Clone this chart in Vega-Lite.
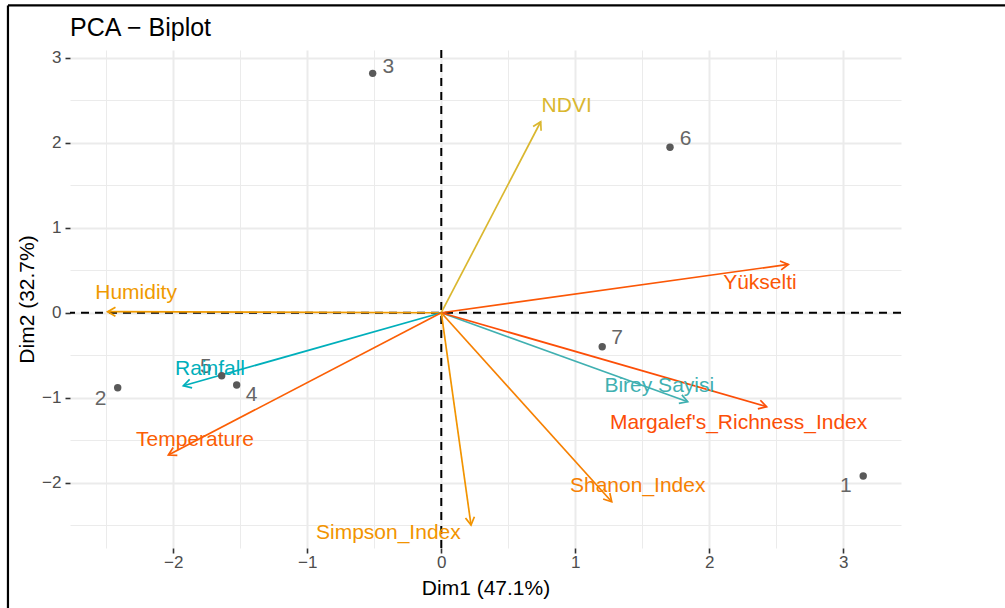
{
  "$schema": "https://vega.github.io/schema/vega-lite/v6.json",
  "width": 831,
  "height": 498,
  "autosize": {"type": "none"},
  "padding": {"left": 70, "top": 50, "right": 104, "bottom": 60},
  "background": "white",
  "config": {
    "font": "Liberation Sans, Arial, sans-serif",
    "view": {"stroke": null}
  },
  "title": {
    "text": "PCA − Biplot",
    "anchor": "start",
    "frame": "group",
    "fontSize": 25,
    "fontWeight": "normal",
    "color": "#000000",
    "baseline": "alphabetic",
    "offset": -56.5
  },
  "resolve": {"axis": {"x": "independent", "y": "independent"}},
  "datasets": {
    "one": [{}],
    "ind": [
      {"name": "1", "x": 3.149, "y": -1.921, "lx": 3.020, "ly": -2.035},
      {"name": "2", "x": -2.415, "y": -0.882, "lx": -2.542, "ly": -1.019},
      {"name": "3", "x": -0.512, "y": 2.816, "lx": -0.396, "ly": 2.894},
      {"name": "4", "x": -1.527, "y": -0.851, "lx": -1.415, "ly": -0.968},
      {"name": "5", "x": -1.639, "y": -0.741, "lx": -1.758, "ly": -0.635},
      {"name": "6", "x": 1.707, "y": 1.946, "lx": 1.824, "ly": 2.040},
      {"name": "7", "x": 1.201, "y": -0.400, "lx": 1.313, "ly": -0.301}
    ],
    "var": [
      {"name": "NDVI", "x": 0.742, "y": 2.247, "lx": 0.936, "ly": 2.432, "cos2": 0.737},
      {"name": "Yükselti", "x": 2.590, "y": 0.569, "lx": 2.378, "ly": 0.346, "cos2": 0.926},
      {"name": "Humidity", "x": -2.490, "y": 0.012, "lx": -2.278, "ly": 0.228, "cos2": 0.816},
      {"name": "Rainfall", "x": -1.925, "y": -0.859, "lx": -1.726, "ly": -0.666, "cos2": 0.576},
      {"name": "Temperature", "x": -2.037, "y": -1.674, "lx": -1.838, "ly": -1.498, "cos2": 0.915},
      {"name": "Birey Sayisi", "x": 1.839, "y": -1.047, "lx": 1.627, "ly": -0.862, "cos2": 0.589},
      {"name": "Margalef's_Richness_Index", "x": 2.428, "y": -1.106, "lx": 2.219, "ly": -1.301, "cos2": 0.937},
      {"name": "Shanon_Index", "x": 1.272, "y": -2.224, "lx": 1.466, "ly": -2.039, "cos2": 0.864},
      {"name": "Simpson_Index", "x": 0.222, "y": -2.498, "lx": -0.395, "ly": -2.595, "cos2": 0.828}
    ]
  },
  "layer": [
    {
      "data": {"name": "one"},
      "mark": {"type": "rule", "color": "#000000", "strokeWidth": 2, "strokeDash": [8, 6]},
      "encoding": {
        "x": {
          "datum": 0, "type": "quantitative",
          "scale": {"domain": [-2.771, 3.431], "nice": false, "zero": false},
          "axis": {
            "orient": "bottom",
            "title": null,
            "values": [-2.5, -1.5, -0.5, 0.5, 1.5, 2.5],
            "grid": true,
            "gridColor": "#EBEBEB",
            "gridWidth": 1,
            "domain": false,
            "ticks": false,
            "labels": false
          }
        }
      }
    },
    {
      "data": {"name": "one"},
      "mark": {"type": "rule", "color": "#000000", "strokeWidth": 2, "strokeDash": [8, 6]},
      "encoding": {
        "y": {
          "datum": 0, "type": "quantitative",
          "scale": {"domain": [-2.768, 3.091], "nice": false, "zero": false},
          "axis": {
            "orient": "left",
            "title": null,
            "values": [-2.5, -1.5, -0.5, 0.5, 1.5, 2.5],
            "grid": true,
            "gridColor": "#EBEBEB",
            "gridWidth": 1,
            "domain": false,
            "ticks": false,
            "labels": false
          }
        }
      }
    },
    {
      "data": {"name": "ind"},
      "mark": {"type": "text", "fontSize": 21, "color": "#666666", "align": "center", "baseline": "middle"},
      "encoding": {
        "x": {"field": "lx", "type": "quantitative", "scale": {"domain": [-2.771, 3.431], "nice": false, "zero": false}, "axis": null},
        "y": {"field": "ly", "type": "quantitative", "scale": {"domain": [-2.768, 3.091], "nice": false, "zero": false}, "axis": null},
        "text": {"field": "name"}
      }
    },
    {
      "data": {"name": "var"},
      "mark": {"type": "rule", "strokeWidth": 1.7},
      "encoding": {
        "x": {"field": "x", "type": "quantitative", "scale": {"domain": [-2.771, 3.431], "nice": false, "zero": false}, "axis": null},
        "y": {"field": "y", "type": "quantitative", "scale": {"domain": [-2.768, 3.091], "nice": false, "zero": false}, "axis": null},
        "x2": {"datum": 0},
        "y2": {"datum": 0},
        "stroke": {"field": "cos2", "type": "quantitative", "scale": {"domain": [0.576, 0.7565, 0.937], "range": ["#00AFBB", "#E7B800", "#FC4E07"], "interpolate": "lab"}, "legend": null}
      }
    },
    {
      "data": {"name": "var"},
      "transform": [{"calculate": "atan2(datum.x * 134, datum.y * 85) * 180 / PI", "as": "ang"}],
      "mark": {"type": "point", "shape": "M-0.5,0.866L0,0L0.5,0.866", "filled": false, "strokeWidth": 1.7, "size": 324, "opacity": 1},
      "encoding": {
        "x": {"field": "x", "type": "quantitative", "scale": {"domain": [-2.771, 3.431], "nice": false, "zero": false}, "axis": null},
        "y": {"field": "y", "type": "quantitative", "scale": {"domain": [-2.768, 3.091], "nice": false, "zero": false}, "axis": null},
        "angle": {"field": "ang", "type": "quantitative", "scale": null},
        "stroke": {"field": "cos2", "type": "quantitative", "scale": {"domain": [0.576, 0.7565, 0.937], "range": ["#00AFBB", "#E7B800", "#FC4E07"], "interpolate": "lab"}, "legend": null}
      }
    },
    {
      "data": {"name": "var"},
      "mark": {"type": "text", "fontSize": 21, "align": "center", "baseline": "middle"},
      "encoding": {
        "x": {"field": "lx", "type": "quantitative", "scale": {"domain": [-2.771, 3.431], "nice": false, "zero": false}, "axis": null},
        "y": {"field": "ly", "type": "quantitative", "scale": {"domain": [-2.768, 3.091], "nice": false, "zero": false}, "axis": null},
        "text": {"field": "name"},
        "color": {
          "field": "cos2", "type": "quantitative",
          "scale": {"domain": [0.576, 0.7565, 0.937], "range": ["#00AFBB", "#E7B800", "#FC4E07"], "interpolate": "lab"},
          "legend": {
            "title": "cos2",
            "orient": "none",
            "legendX": 862,
            "legendY": 150,
            "gradientLength": 169,
            "gradientThickness": 36,
            "labelFontSize": 17,
            "labelColor": "#1A1A1A",
            "labelOffset": 8,
            "titleFontSize": 21,
            "titleFontWeight": "normal",
            "titleColor": "#000000",
            "titlePadding": 10
          }
        }
      }
    },
    {
      "data": {"name": "ind"},
      "mark": {"type": "circle", "size": 55, "color": "#595959", "opacity": 1},
      "encoding": {
        "x": {
          "field": "x", "type": "quantitative",
          "scale": {"domain": [-2.771, 3.431], "nice": false, "zero": false},
          "axis": {
            "orient": "bottom",
            "title": "Dim1 (47.1%)",
            "values": [-2, -1, 0, 1, 2, 3],
            "format": "d",
            "grid": true,
            "gridColor": "#EBEBEB",
            "gridWidth": 2,
            "domain": false,
            "ticks": true,
            "tickColor": "#333333",
            "tickSize": 5,
            "tickWidth": 1.6,
            "labelFontSize": 17,
            "labelColor": "#4D4D4D",
            "labelPadding": 1,
            "labelOverlap": false,
            "labelFlush": false,
            "titleFontSize": 21,
            "titleFontWeight": "normal",
            "titleColor": "#000000",
            "titlePadding": 7
          }
        },
        "y": {
          "field": "y", "type": "quantitative",
          "scale": {"domain": [-2.768, 3.091], "nice": false, "zero": false},
          "axis": {
            "orient": "left",
            "title": "Dim2 (32.7%)",
            "values": [-2, -1, 0, 1, 2, 3],
            "format": "d",
            "grid": true,
            "gridColor": "#EBEBEB",
            "gridWidth": 2,
            "domain": false,
            "ticks": true,
            "tickColor": "#333333",
            "tickSize": 5,
            "tickWidth": 1.6,
            "labelFontSize": 17,
            "labelColor": "#4D4D4D",
            "labelPadding": 4,
            "labelOverlap": false,
            "labelFlush": false,
            "titleFontSize": 21,
            "titleFontWeight": "normal",
            "titleColor": "#000000",
            "titlePadding": 4
          }
        }
      }
    },
    {
      "data": {"name": "one"},
      "mark": {"type": "rule", "color": "#000000", "strokeWidth": 2.2},
      "encoding": {
        "x": {"datum": -3.234, "type": "quantitative", "scale": {"domain": [-2.771, 3.431], "nice": false, "zero": false}, "axis": null},
        "y": {"datum": -3.5, "type": "quantitative", "scale": {"domain": [-2.768, 3.091], "nice": false, "zero": false}, "axis": null},
        "y2": {"datum": 3.616}
      }
    },
    {
      "data": {"name": "one"},
      "mark": {"type": "rule", "color": "#000000", "strokeWidth": 2.2},
      "encoding": {
        "x": {"datum": -3.234, "type": "quantitative", "scale": {"domain": [-2.771, 3.431], "nice": false, "zero": false}, "axis": null},
        "x2": {"datum": 4.25},
        "y": {"datum": 3.616, "type": "quantitative", "scale": {"domain": [-2.768, 3.091], "nice": false, "zero": false}, "axis": null}
      }
    }
  ]
}
